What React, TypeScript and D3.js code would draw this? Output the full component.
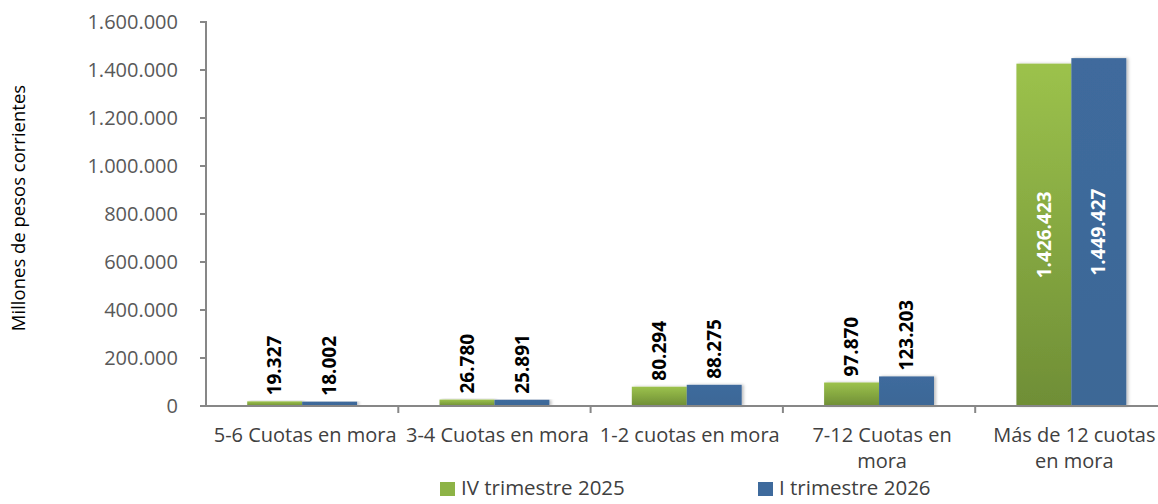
import * as React from 'react';
import * as d3 from 'd3';

const categories = [
  ['5-6 Cuotas en mora'],
  ['3-4 Cuotas en mora'],
  ['1-2 cuotas en mora'],
  ['7-12 Cuotas en', 'mora'],
  ['Más de 12 cuotas', 'en mora'],
];
const seriesNames = ['IV trimestre 2025', 'I trimestre 2026'];
const ivTrimestre2025 = [19327, 26780, 80294, 97870, 1426423];
const iTrimestre2026 = [18002, 25891, 88275, 123203, 1449427];
const yTicks = [0, 200000, 400000, 600000, 800000, 1000000, 1200000, 1400000, 1600000];

const fmt = (v: number) => d3.format(',')(v).replace(/,/g, '.');

export default function App() {
  const width = 1158;
  const height = 504;
  const left = 206;
  const bottom = 406;
  const top = 22;
  const step = 192.3;
  const font = '"Open Sans", sans-serif';

  const keys = categories.map((_, i) => String(i));
  const x = d3.scaleBand<string>().domain(keys).range([left, left + step * keys.length]);
  const x1 = d3.scaleBand<string>().domain(['0', '1']).range([0, x.bandwidth()]).paddingOuter(0.75);
  const y = d3.scaleLinear().domain([0, 1600000]).range([bottom, top]);
  const series = [ivTrimestre2025, iTrimestre2026];
  const fills = ['url(#gGreen)', 'url(#gBlue)'];
  const legendFill = ['#8db346', '#3e6a9c'];
  const axisColor = '#878787';

  return (
    <>
      <style>{'body{margin:0}'}</style>
      <svg width={width} height={height} style={{ display: 'block' }}>
        <defs>
          <linearGradient id="gGreen" x1="0" y1="0" x2="0" y2="1">
            <stop offset="0" stopColor="#9cc24c" />
            <stop offset="1" stopColor="#6f8e36" />
          </linearGradient>
          <linearGradient id="gBlue" x1="0" y1="0" x2="0" y2="1">
            <stop offset="0" stopColor="#3f6b9d" />
            <stop offset="1" stopColor="#3c6796" />
          </linearGradient>
          <filter id="sh" x="-10%" y="-10%" width="130%" height="120%">
            <feDropShadow dx="2" dy="0" stdDeviation="1.5" floodColor="#000" floodOpacity="0.25" />
          </filter>
        </defs>

        {/* y axis */}
        <line x1={left} x2={left} y1={top - 1} y2={bottom} stroke={axisColor} strokeWidth={2} />
        {yTicks.map(t => (
          <g key={t}>
            <line x1={left - 6} x2={left} y1={y(t)} y2={y(t)} stroke={axisColor} strokeWidth={2} />
            <text x={178} y={y(t)} dy="0.35em" textAnchor="end" fontFamily={font} fontSize={20} fill="#595959">
              {fmt(t)}
            </text>
          </g>
        ))}
        <text
          transform={`translate(19,208) rotate(-90)`}
          textAnchor="middle"
          dy="0.35em"
          fontFamily={font}
          fontSize={18.5}
          fill="#000"
        >
          Millones de pesos corrientes
        </text>

        {/* bars */}
        {keys.map((k, i) => (
          <g key={k} transform={`translate(${x(k)},0)`}>
            {series.map((s, j) => (
              <rect
                key={j}
                x={x1(String(j))}
                y={y(s[i])}
                width={x1.bandwidth()}
                height={bottom - y(s[i])}
                fill={fills[j]}
                filter="url(#sh)"
              />
            ))}
          </g>
        ))}

        {/* x axis */}
        <line x1={left} x2={width} y1={bottom} y2={bottom} stroke={axisColor} strokeWidth={2} />
        {keys.map(k => (
          <line key={k} x1={x(k)! + x.bandwidth()} x2={x(k)! + x.bandwidth()} y1={bottom} y2={bottom + 7}
            stroke={axisColor} strokeWidth={2} />
        ))}
        {categories.map((lines, i) =>
          lines.map((l, li) => (
            <text key={`${i}-${li}`} x={x(String(i))! + x.bandwidth() / 2 + 3} y={442 + li * 26}
              textAnchor="middle" fontFamily={font} fontSize={20} fill="#404040">
              {l}
            </text>
          ))
        )}

        {/* data labels */}
        {keys.map((k, i) =>
          series.map((s, j) => {
            const cx = x(k)! + x1(String(j))! + x1.bandwidth() / 2;
            const inside = bottom - y(s[i]) > 200;
            const ty = inside ? (y(s[i]) + bottom) / 2 : y(s[i]) - 6;
            return (
              <text
                key={`${i}-${j}`}
                transform={`translate(${cx},${ty}) rotate(-90)`}
                textAnchor={inside ? 'middle' : 'start'}
                dy="0.35em"
                fontFamily={font}
                fontWeight="bold"
                fontSize={19}
                fill={inside ? '#fff' : '#000'}
              >
                {fmt(s[i])}
              </text>
            );
          })
        )}

        {/* legend */}
        {seriesNames.map((n, j) => {
          const lx = j === 0 ? 440 : 758;
          return (
            <g key={n}>
              <rect x={lx} y={482} width={15} height={14} fill={legendFill[j]} />
              <text x={lx + 21} y={495} fontFamily={font} fontSize={20.5} fill="#404040">{n}</text>
            </g>
          );
        })}
      </svg>
    </>
  );
}
